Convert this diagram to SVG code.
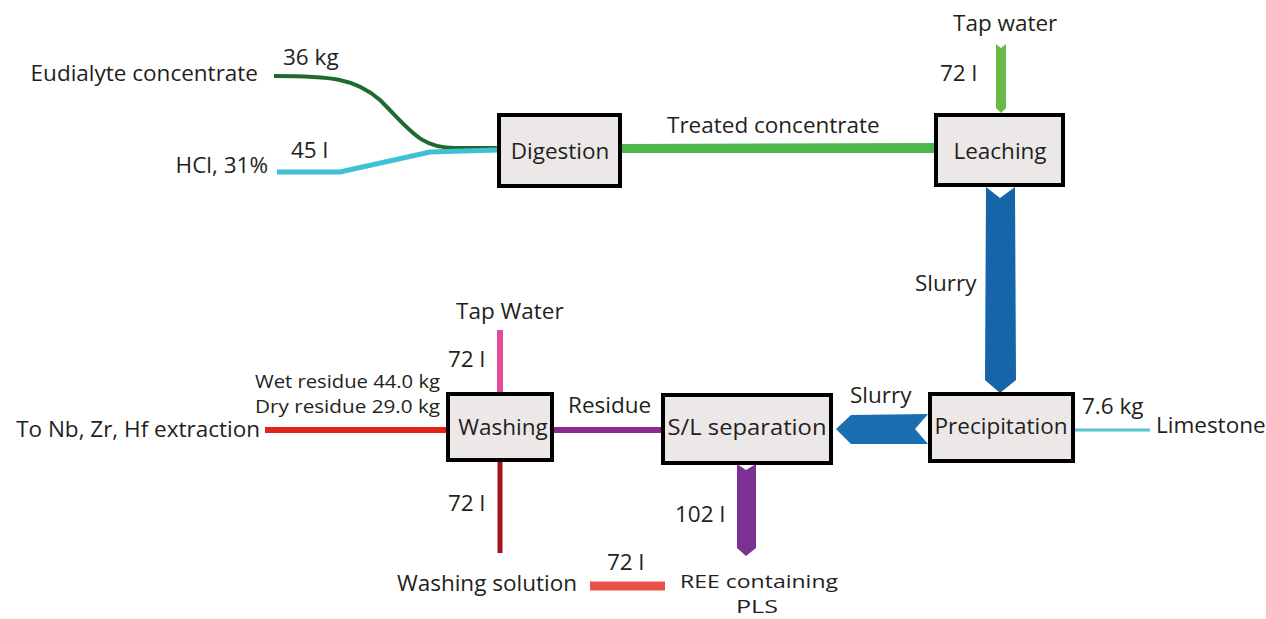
<svg xmlns="http://www.w3.org/2000/svg" width="1266" height="619" viewBox="0 0 1266 619">
<style>
text{font-family:"Open Sans","Liberation Sans",sans-serif;font-size:22.5px;fill:#231f20}
.res{font-size:18px}
.ree{font-size:19px}
.box{fill:#ece8e8;stroke:#000;stroke-width:4}
.ln{fill:none;stroke-linecap:butt}
</style>
<rect width="1266" height="619" fill="#fff"/>
<g id="connectors">
<path class="ln" d="M274,76 C330,76 355,78 380,100 C410,130 420,148 455,148 L498,148" stroke="#1f6a2c" stroke-width="4"/>
<path class="ln" d="M277,172 L340,172 L430,152 L498,150" stroke="#3fc0d4" stroke-width="5"/>
<path d="M621,144 L935,143 L935,153 L621,153 Z" fill="#4cb84c"/>
<polygon points="996,44 1001,48 1006,44 1006,108 1001,113 996,108" fill="#6ab947"/>
<polygon points="986,187 1000,198 1015,187 1016,380 1000,393 985,380" fill="#1565a8"/>
<polygon points="836,429 851,415 928,414 915,429 928,444 851,444" fill="#1a6fb3"/>
<line x1="1074" y1="430" x2="1150" y2="430" stroke="#53c3cf" stroke-width="3"/>
<line x1="553" y1="430" x2="662" y2="430" stroke="#8b2a8d" stroke-width="6"/>
<line x1="265" y1="430" x2="447" y2="430" stroke="#e3221a" stroke-width="6"/>
<line x1="500" y1="330" x2="500" y2="393" stroke="#e44a9a" stroke-width="6"/>
<line x1="500" y1="461" x2="500" y2="553" stroke="#a0141a" stroke-width="5"/>
<polygon points="737,464 746,470 756,464 756,548 746,556 737,548" fill="#7d3192"/>
<line x1="590" y1="586" x2="665" y2="586" stroke="#e8524b" stroke-width="9"/>
</g>
<g id="digestion"><rect class="box" x="499" y="115" width="121" height="71"/><text x="560" y="159" text-anchor="middle">Digestion</text></g>
<g id="leaching"><rect class="box" x="936" y="115" width="127" height="70"/><text x="1000" y="159" text-anchor="middle">Leaching</text></g>
<g id="precipitation"><rect class="box" x="930" y="394" width="143" height="67"/><text x="1001" y="434" text-anchor="middle" textLength="133" lengthAdjust="spacingAndGlyphs">Precipitation</text></g>
<g id="sl-separation"><rect class="box" x="663" y="395" width="168" height="68"/><text x="747" y="435" text-anchor="middle" textLength="159" lengthAdjust="spacingAndGlyphs">S/L separation</text></g>
<g id="washing"><rect class="box" x="448" y="394" width="104" height="66"/><text x="503" y="435" text-anchor="middle">Washing</text></g>
<g id="labels">
<text x="258" y="81" text-anchor="end">Eudialyte concentrate</text>
<text x="283" y="65">36 kg</text>
<text x="268" y="173" text-anchor="end">HCl, 31%</text>
<text x="291" y="158">45 l</text>
<text x="667" y="133">Treated concentrate</text>
<text x="953" y="31">Tap water</text>
<text x="940" y="81">72 l</text>
<text x="915" y="291">Slurry</text>
<text x="850" y="403">Slurry</text>
<text x="1082" y="414">7.6 kg</text>
<text x="1156" y="433">Limestone</text>
<text x="568" y="413">Residue</text>
<text x="456" y="319">Tap Water</text>
<text x="448" y="367">72 l</text>
<text class="res" x="255" y="388" textLength="185" lengthAdjust="spacingAndGlyphs">Wet residue 44.0 kg</text>
<text class="res" x="255" y="413" textLength="185" lengthAdjust="spacingAndGlyphs">Dry residue 29.0 kg</text>
<text x="260" y="437" text-anchor="end">To Nb, Zr, Hf extraction</text>
<text x="448" y="511">72 l</text>
<text x="675" y="522">102 l</text>
<text x="607" y="570">72 l</text>
<text x="577" y="591" text-anchor="end">Washing solution</text>
<text class="ree" x="680" y="588" textLength="158" lengthAdjust="spacingAndGlyphs">REE containing</text>
<text class="ree" x="757" y="613" text-anchor="middle" textLength="42" lengthAdjust="spacingAndGlyphs">PLS</text>
</g>
</svg>
